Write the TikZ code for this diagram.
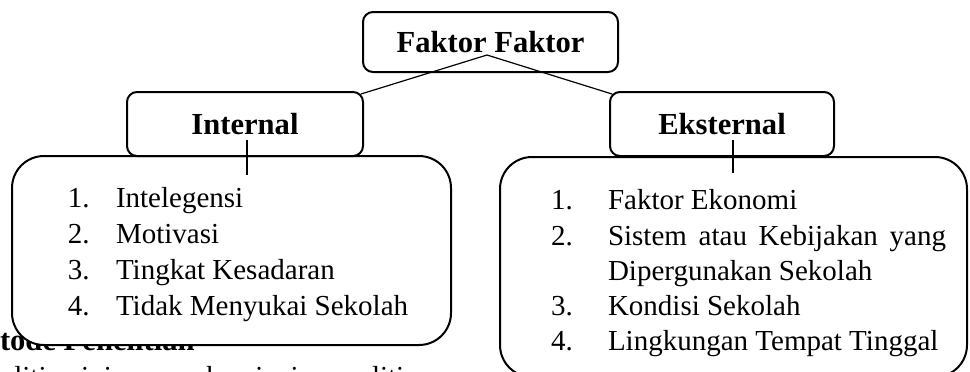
\documentclass[tikz,border=0pt]{standalone}
\usepackage{fontspec}
\setmainfont{Liberation Serif}
\usetikzlibrary{positioning}
\tikzset{
  every picture/.style={font=\fontsize{14.5}{17}\selectfont, line width=1pt},
  box/.style={draw, fill=white, rounded corners=#1, inner sep=0pt},
  box/.default=5pt,
  link/.style={draw, line width=0.6pt},
  item/.style={anchor=base west, inner sep=0pt},
  head/.style={font=\fontsize{15.3}{18}\selectfont\bfseries},
}

\begin{document}
\begin{tikzpicture}[x=0.5pt, y=-0.5pt,
  top/.style={box=5pt, head, minimum width=127.5pt, minimum height=30pt},
  side/.style={box=5pt, head, minimum height=32pt},
  list/.style={box=16pt}]
  \useasboundingbox (0,0) rectangle (970,371);
  \clip (0,0) rectangle (970,371);
  % page text behind the boxes
  \node[item, head] (sec) at (-1,350) {tode Penelitian};
  \node[item] (par) at (-43,386) {Penelitian ini merupakan jenis penelitian};
  \node[list, minimum width=219.5pt, minimum height=94.5pt] (intlist) at (231.5,250.5) {};
  \node[list, minimum width=233.5pt, minimum height=110pt] (extlist) at (733.5,267) {};
  \node[top] (faktor) at (490.5,42) {Faktor Faktor};
  \node[side, minimum width=118pt] (internal) at (245,124) {Internal};
  \node[side, minimum width=112pt] (eksternal) at (722,124) {Eksternal};
  \coordinate (split) at (487,55);
  \draw[link] (split) -- ([shift={(-3,3)}]internal.north east);
  \draw[link] (split) -- ([shift={(3,3)}]eksternal.north west);
  \draw[link] ([xshift=1pt, yshift=-8pt]internal.center) -- ++(0,35);
  \draw[link] ([xshift=5.5pt, yshift=-8pt]eksternal.center) -- ++(0,33);
  \foreach \t [count=\i, evaluate=\i as \y using 171+36*\i] in {Intelegensi, Motivasi, Tingkat Kesadaran, Tidak Menyukai Sekolah} {
    \node[item] (intn\i) at (67,\y) {\i.};
    \node[item] (intt\i) at (115,\y) {\t};
  }
  \node[item] (extn1) at (550,209) {1.}; \node[item] (extt1) at (607,209) {Faktor Ekonomi};
  \node[item] (extn2) at (550,245) {2.}; \node[item] (extt2) at (607,245) {\hbox to 169pt{Sistem\hfill atau\hfill Kebijakan\hfill yang}};
  \node[item] (extt2b) at (607,280) {Dipergunakan Sekolah};
  \node[item] (extn3) at (550,315) {3.}; \node[item] (extt3) at (607,315) {Kondisi Sekolah};
  \node[item] (extn4) at (550,350) {4.}; \node[item] (extt4) at (607,350) {Lingkungan Tempat Tinggal};
\end{tikzpicture}
\end{document}
